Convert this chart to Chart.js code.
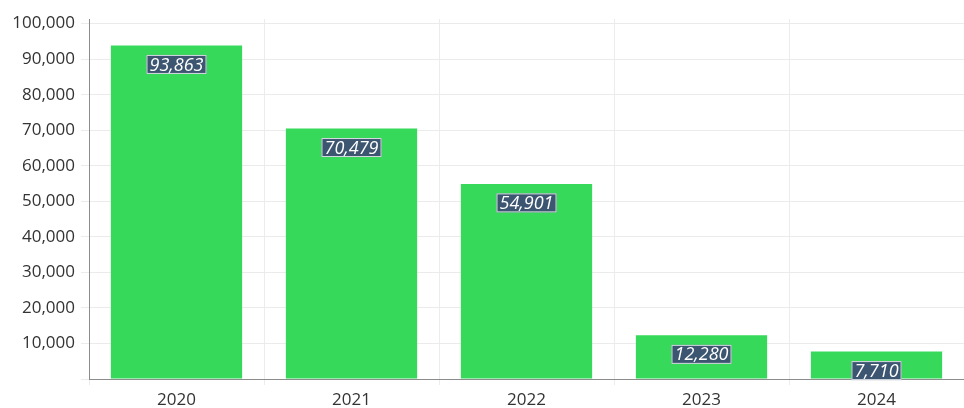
<!DOCTYPE html>
<html>
<head>
<meta charset="utf-8">
<script src="https://cdn.jsdelivr.net/npm/chart.js@4/dist/chart.umd.min.js"></script>
<style>
    html, body { margin: 0; padding: 0; background: #fff; }
    #wrap { width: 964px; height: 408px; }
</style>
</head>
<body>
<div id="wrap"><canvas id="chart"></canvas></div>
<script>
const years = ['2020', '2021', '2022', '2023', '2024'];
const totals = [93863, 70479, 54901, 12280, 7710];
const yTicks = [10000, 20000, 30000, 40000, 50000, 60000, 70000, 80000, 90000, 100000];

const fontFamily = '"Open Sans", "Noto Sans", sans-serif';

// value badge drawn near the top of each bar
const barBadges = {
    id: 'barBadges',
    afterDatasetsDraw(chart) {
        const ctx = chart.ctx;
        const meta = chart.getDatasetMeta(0);
        ctx.save();
        ctx.font = 'italic 18px ' + fontFamily;
        ctx.textAlign = 'center';
        ctx.textBaseline = 'middle';
        meta.data.forEach(function (bar, i) {
            const text = totals[i].toLocaleString('en-US');
            const w = ctx.measureText(text).width + 6;
            const h = 19;
            const cx = bar.x;
            const cy = bar.y + 19;
            ctx.fillStyle = '#3c5570';
            ctx.fillRect(cx - w / 2, cy - h / 2, w, h);
            ctx.strokeStyle = 'rgba(255,255,255,0.8)';
            ctx.lineWidth = 1;
            ctx.strokeRect(cx - w / 2 + 0.5, cy - h / 2 + 0.5, w - 1, h - 1);
            ctx.fillStyle = '#ffffff';
            ctx.fillText(text, cx, cy + 1);
        });
        ctx.restore();
    }
};

new Chart(document.getElementById('chart'), {
    type: 'bar',
    data: {
        labels: years,
        datasets: [{
            label: 'Total',
            data: totals,
            backgroundColor: '#36d95a',
            categoryPercentage: 0.75,
            barPercentage: 1
        }]
    },
    options: {
        responsive: true,
        maintainAspectRatio: false,
        animation: false,
        layout: {
            padding: { top: 19, right: 0, left: 0, bottom: 0 }
        },
        plugins: {
            legend: { display: false },
            tooltip: { enabled: false }
        },
        scales: {
            x: {
                offset: true,
                grid: {
                    offset: true,
                    color: '#ececec',
                    tickLength: 6
                },
                border: { color: '#8c8c8c', width: 1 },
                ticks: {
                    color: '#333',
                    font: { family: fontFamily, size: 17 },
                    padding: 5
                },
                afterFit(scale) { scale.height = 29; }
            },
            y: {
                min: 0,
                max: 101300,
                afterBuildTicks(scale) {
                    scale.ticks = [{ value: 0 }].concat(yTicks.map(function (v) { return { value: v }; }));
                },
                grid: {
                    color: '#ebebeb',
                    tickLength: 8
                },
                border: { color: '#8c8c8c', width: 1 },
                ticks: {
                    color: '#333',
                    font: { family: fontFamily, size: 17 },
                    padding: 6,
                    callback(value) {
                        return value === 0 ? '' : value.toLocaleString('en-US');
                    }
                },
                afterFit(scale) { scale.width = 89; }
            }
        }
    },
    plugins: [barBadges]
});
</script>
</body>
</html>
